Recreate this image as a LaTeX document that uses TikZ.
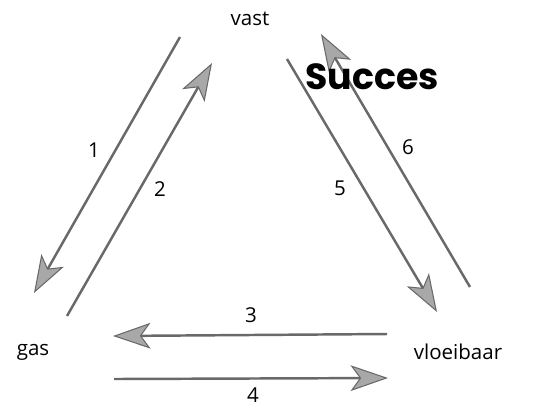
\documentclass[tikz,border=0pt]{standalone}
\usepackage{fontspec}
\setmainfont{Open Sans}
\newfontfamily\kopfont{Poppins}
\usetikzlibrary{arrows.meta}
\definecolor{lijn}{RGB}{105,105,105}
\definecolor{punt}{RGB}{168,168,168}

\begin{document}
\begin{tikzpicture}[
  x=0.03cm, y=-0.03cm,
  every node/.style={font=\fontsize{17.5}{20}\selectfont, inner sep=0pt},
  fase/.style={anchor=center},
  nr/.style={anchor=center},
  pijl/.style={draw=lijn, line width=2.1pt, -{Stealth[length=32pt, width=22pt, inset=8pt, fill=punt, line width=0.9pt]}}
]
  \useasboundingbox (0,0) rectangle (542,407);

  \node[fase] (vast) at (250,19) {vast};
  \node[fase] (gas) at (33,352) {gas};
  \node[fase] (vloei) at (458,352) {vloeibaar};

  % begin- en eindpunten van de pijlen
  \coordinate (a1) at (180,37);  \coordinate (b1) at (34,293);
  \coordinate (a2) at (67,316);  \coordinate (b2) at (212,63);
  \coordinate (a3) at (387,334); \coordinate (b3) at (113,336);
  \coordinate (a4) at (114,379); \coordinate (b4) at (388,378);
  \coordinate (a5) at (287,59);  \coordinate (b5) at (437,312);
  \coordinate (a6) at (470,287); \coordinate (b6) at (321,34);

  \foreach \i in {1,...,6} \draw[pijl] (a\i) -- (b\i);

  \node[nr] (n1) at (94,150) {1};
  \node[nr] (n2) at (160,189) {2};
  \node[nr] (n3) at (251,315) {3};
  \node[nr] (n4) at (253,395) {4};
  \node[nr] (n5) at (340,188) {5};
  \node[nr] (n6) at (408,147) {6};

  \node[font=\kopfont\bfseries\fontsize{31}{34}\selectfont] (succes) at (372,77) {Succes};
\end{tikzpicture}
\end{document}
